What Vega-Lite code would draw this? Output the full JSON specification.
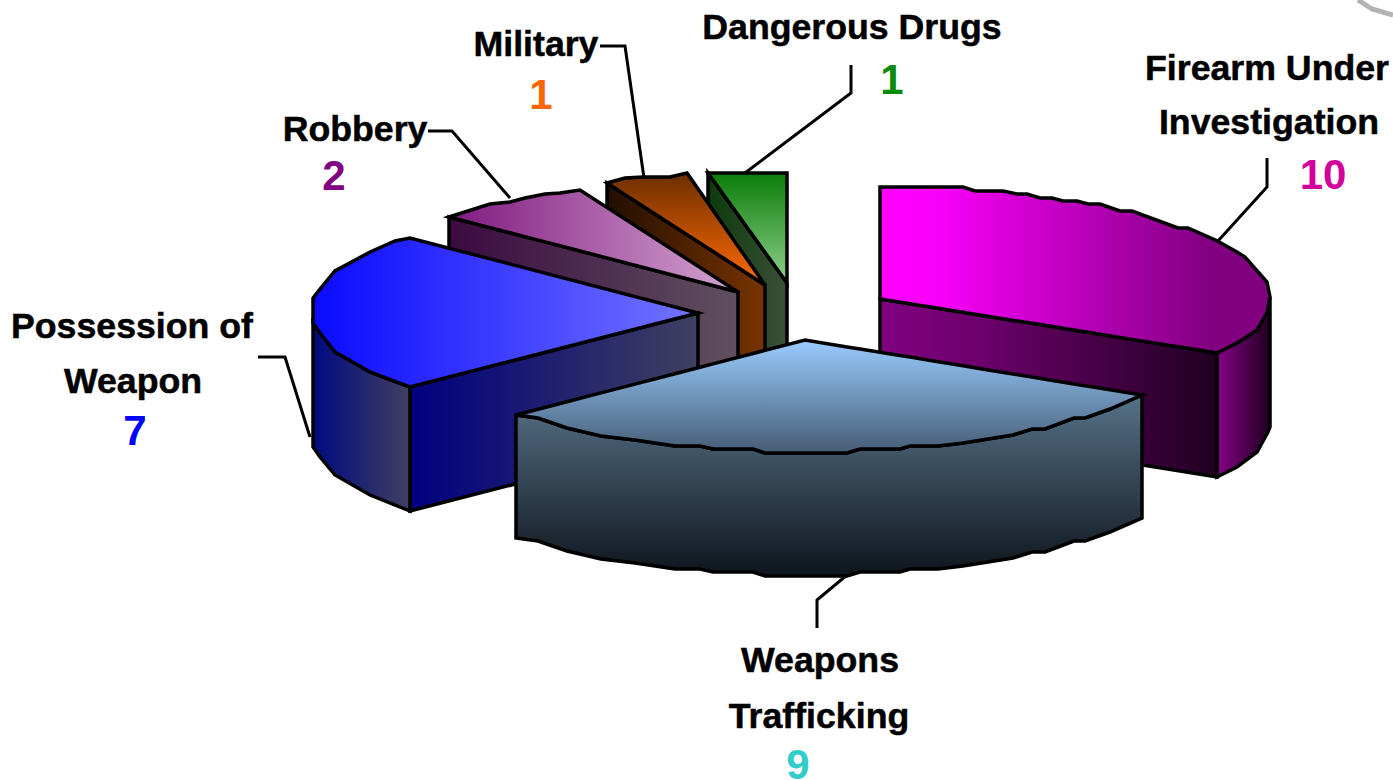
{
"$schema":"https://vega.github.io/schema/vega-lite/v6.json",
"width":1393,"height":780,"padding":0,"autosize":{"type":"none"},"background":"white",
"config":{"view":{"stroke":null},"axis":{"disable":true},"legend":{"disable":true}},
"datasets":{
"slices":[
{"category":"Firearm Under Investigation","count":10,"x":1323,"y":176},
{"category":"Weapons Trafficking","count":9,"x":798,"y":766},
{"category":"Possession of Weapon","count":7,"x":135,"y":432},
{"category":"Robbery","count":2,"x":334,"y":177},
{"category":"Military","count":1,"x":541,"y":96},
{"category":"Dangerous Drugs","count":1,"x":892,"y":81}],
"names":[
{"t":"Dangerous Drugs","x":852,"y":28},{"t":"Military","x":536,"y":45},{"t":"Robbery","x":355,"y":130},
{"t":"Firearm Under","x":1267,"y":69},{"t":"Investigation","x":1269,"y":123},
{"t":"Possession of","x":132,"y":327},{"t":"Weapon","x":133,"y":382},
{"t":"Weapons","x":820,"y":661},{"t":"Trafficking","x":819,"y":717}],
"leaders":[
{"c":"f","s":1,"x":1267,"y":158},{"c":"f","s":2,"x":1267,"y":187},{"c":"f","s":3,"x":1218,"y":241},
{"c":"w","s":1,"x":847,"y":575},{"c":"w","s":2,"x":817,"y":600},{"c":"w","s":3,"x":817,"y":628},
{"c":"p","s":1,"x":258,"y":357},{"c":"p","s":2,"x":285,"y":357},{"c":"p","s":3,"x":310,"y":437},
{"c":"r","s":1,"x":428,"y":131},{"c":"r","s":2,"x":452,"y":131},{"c":"r","s":3,"x":510,"y":198},
{"c":"m","s":1,"x":600,"y":46},{"c":"m","s":2,"x":625,"y":46},{"c":"m","s":3,"x":644,"y":178},
{"c":"d","s":1,"x":851,"y":65},{"c":"d","s":2,"x":851,"y":93},{"c":"d","s":3,"x":745,"y":173}],
"swoosh":[{"x":1358,"y":0},{"x":1372,"y":9},{"x":1393,"y":15}],
"drugsSide":[{"x":708,"y":173,"y2":293},{"x":787,"y":283,"y2":403}],
"drugsTop":[{"x":708,"y":173,"y2":173},{"x":787,"y":173,"y2":283}],
"milSide":[{"x":607,"y":183,"y2":303},{"x":765,"y":285,"y2":405}],
"milTop":[{"x":607,"y":183,"y2":183},{"x":625,"y":178,"y2":194.6},{"x":643,"y":177,"y2":206.2},{"x":670,"y":177,"y2":223.7},{"x":687,"y":173,"y2":234.6},{"x":765,"y":285,"y2":285}],
"robSide":[{"x":449,"y":217,"y2":337},{"x":738,"y":292,"y2":412}],
"robTop":[{"x":449,"y":217,"y2":217},{"x":490,"y":204,"y2":227.6},{"x":510,"y":202,"y2":232.8},{"x":525,"y":198,"y2":236.7},{"x":545,"y":194,"y2":241.9},{"x":560,"y":193,"y2":245.8},{"x":580,"y":190,"y2":251},{"x":738,"y":292,"y2":292}],
"fireInner":[{"x":880,"y":299,"y2":423},{"x":1217,"y":353,"y2":477}],
"fireOuter":[{"x":1217,"y":353,"y2":477},{"x":1237,"y":343,"y2":467},{"x":1257,"y":330,"y2":452},{"x":1268,"y":310,"y2":432},{"x":1270,"y":297,"y2":427}],
"fireTop":[{"x":880,"y":187,"y2":299},{"x":963,"y":187,"y2":312.3},{"x":975,"y":191,"y2":314.2},{"x":1003,"y":191,"y2":318.7},{"x":1017,"y":194,"y2":321},{"x":1027,"y":194,"y2":322.6},{"x":1040,"y":198,"y2":324.6},{"x":1052,"y":198,"y2":326.6},{"x":1063,"y":201,"y2":328.3},{"x":1077,"y":201,"y2":330.6},{"x":1088,"y":204,"y2":332.3},{"x":1100,"y":204,"y2":334.2},{"x":1120,"y":211,"y2":337.5},{"x":1132,"y":211,"y2":339.4},{"x":1178,"y":228,"y2":346.8},{"x":1188,"y":228,"y2":348.3},{"x":1217,"y":240.7,"y2":353},{"x":1237,"y":252,"y2":343},{"x":1245,"y":257,"y2":338},{"x":1257,"y":270.6,"y2":330},{"x":1267,"y":282,"y2":313},{"x":1270,"y":297,"y2":297}],
"blueFront":[{"x":410,"y":387,"y2":511},{"x":698,"y":313,"y2":437}],
"blueOuter":[{"x":313,"y":323,"y2":447},{"x":320,"y":333,"y2":457},{"x":335,"y":352,"y2":475},{"x":370,"y":372,"y2":495},{"x":410,"y":387,"y2":511}],
"blueTop":[{"x":313,"y":298,"y2":323},{"x":320,"y":289,"y2":333},{"x":335,"y":271,"y2":352},{"x":370,"y":252,"y2":372},{"x":395,"y":241,"y2":381.5},{"x":410,"y":238,"y2":387},{"x":698,"y":313,"y2":313}],
"weapSide":[{"x":516,"y":415,"y2":538},{"x":538,"y":418,"y2":541},{"x":567,"y":428,"y2":551},{"x":601,"y":436,"y2":559},{"x":635,"y":440,"y2":563},{"x":675,"y":446,"y2":569},{"x":700,"y":446,"y2":569},{"x":713,"y":449,"y2":572},{"x":753,"y":449,"y2":572},{"x":765,"y":453,"y2":576},{"x":847,"y":453,"y2":576},{"x":860,"y":449,"y2":572},{"x":900,"y":449,"y2":572},{"x":910,"y":446,"y2":569},{"x":938,"y":446,"y2":569},{"x":963,"y":443,"y2":566},{"x":988,"y":439,"y2":562},{"x":1013,"y":435,"y2":558},{"x":1032,"y":429,"y2":552},{"x":1045,"y":429,"y2":552},{"x":1074,"y":418,"y2":541},{"x":1085,"y":418,"y2":541},{"x":1110,"y":409,"y2":532},{"x":1142,"y":395,"y2":518}],
"weapTop":[{"x":516,"y":415,"y2":415},{"x":538,"y":409.3,"y2":418},{"x":567,"y":401.8,"y2":428},{"x":601,"y":392.9,"y2":436},{"x":635,"y":384.1,"y2":440},{"x":675,"y":373.7,"y2":446},{"x":700,"y":367.2,"y2":446},{"x":713,"y":363.9,"y2":449},{"x":753,"y":353.5,"y2":449},{"x":765,"y":350.4,"y2":453},{"x":805,"y":340,"y2":453},{"x":847,"y":346.9,"y2":453},{"x":860,"y":349,"y2":449},{"x":900,"y":355.5,"y2":449},{"x":910,"y":357.1,"y2":446},{"x":938,"y":361.7,"y2":446},{"x":963,"y":365.8,"y2":443},{"x":988,"y":369.9,"y2":439},{"x":1013,"y":374,"y2":435},{"x":1032,"y":377.1,"y2":429},{"x":1045,"y":379.2,"y2":429},{"x":1074,"y":384,"y2":418},{"x":1085,"y":385.8,"y2":418},{"x":1110,"y":389.8,"y2":409},{"x":1142,"y":395,"y2":395}]
},
"encoding":{
"x":{"field":"x","type":"quantitative","scale":{"domain":[0,1393],"nice":false,"zero":false},"axis":null},
"y":{"field":"y","type":"quantitative","scale":{"domain":[780,0],"nice":false,"zero":false},"axis":null}
},
"layer":[
{"data":{"name":"swoosh"},"mark":{"type":"line","stroke":"#b4b4b4","strokeWidth":5}},
{"data":{"name":"leaders"},"mark":{"type":"line","stroke":"black","strokeWidth":3,"strokeJoin":"miter"},"encoding":{"detail":{"field":"c"},"order":{"field":"s","type":"ordinal"}}},
{"data":{"name":"drugsSide"},"mark":{"type":"area","orient":"vertical","stroke":"black","strokeWidth":3.5,"fill":{"gradient":"linear","x1":0,"y1":0,"x2":1,"y2":0,"stops":[{"offset":0,"color":"#0c3a0c"},{"offset":1,"color":"#3c5038"}]}},"encoding":{"y2":{"field":"y2"}}},
{"data":{"name":"drugsTop"},"mark":{"type":"area","orient":"vertical","stroke":"black","strokeWidth":3.5,"fill":{"gradient":"linear","x1":0,"y1":0,"x2":0,"y2":1,"stops":[{"offset":0,"color":"#0b7d0b"},{"offset":1,"color":"#8fd08a"}]}},"encoding":{"y2":{"field":"y2"}}},
{"data":{"name":"milSide"},"mark":{"type":"area","orient":"vertical","stroke":"black","strokeWidth":3.5,"fill":{"gradient":"linear","x1":0,"y1":0,"x2":1,"y2":0,"stops":[{"offset":0,"color":"#220e00"},{"offset":1,"color":"#783400"}]}},"encoding":{"y2":{"field":"y2"}}},
{"data":{"name":"milTop"},"mark":{"type":"area","orient":"vertical","stroke":"black","strokeWidth":3.5,"fill":{"gradient":"linear","x1":0,"y1":0,"x2":0,"y2":1,"stops":[{"offset":0,"color":"#6c2e00"},{"offset":1,"color":"#ff6a00"}]}},"encoding":{"y2":{"field":"y2"}}},
{"data":{"name":"robSide"},"mark":{"type":"area","orient":"vertical","stroke":"black","strokeWidth":3.5,"fill":{"gradient":"linear","x1":0,"y1":0,"x2":1,"y2":0,"stops":[{"offset":0,"color":"#3a0a40"},{"offset":1,"color":"#605060"}]}},"encoding":{"y2":{"field":"y2"}}},
{"data":{"name":"robTop"},"mark":{"type":"area","orient":"vertical","stroke":"black","strokeWidth":3.5,"fill":{"gradient":"linear","x1":0,"y1":0,"x2":1,"y2":0,"stops":[{"offset":0,"color":"#801a80"},{"offset":1,"color":"#d4a4d0"}]}},"encoding":{"y2":{"field":"y2"}}},
{"data":{"name":"fireInner"},"mark":{"type":"area","orient":"vertical","stroke":"black","strokeWidth":3.5,"fill":{"gradient":"linear","x1":0,"y1":0,"x2":1,"y2":0,"stops":[{"offset":0,"color":"#800080"},{"offset":0.3,"color":"#6c006c"},{"offset":1,"color":"#200020"}]}},"encoding":{"y2":{"field":"y2"}}},
{"data":{"name":"fireOuter"},"mark":{"type":"area","orient":"vertical","stroke":"black","strokeWidth":3.5,"fill":{"gradient":"linear","x1":0,"y1":0,"x2":1,"y2":0,"stops":[{"offset":0,"color":"#860086"},{"offset":1,"color":"#200020"}]}},"encoding":{"y2":{"field":"y2"}}},
{"data":{"name":"fireTop"},"mark":{"type":"area","orient":"vertical","stroke":"black","strokeWidth":3.5,"fill":{"gradient":"linear","x1":0,"y1":0,"x2":1,"y2":0,"stops":[{"offset":0,"color":"#ff00ff"},{"offset":0.15,"color":"#f800f8"},{"offset":0.85,"color":"#800080"},{"offset":1,"color":"#800080"}]}},"encoding":{"y2":{"field":"y2"}}},
{"data":{"name":"blueFront"},"mark":{"type":"area","orient":"vertical","stroke":"black","strokeWidth":3.5,"fill":{"gradient":"linear","x1":0,"y1":0,"x2":1,"y2":0,"stops":[{"offset":0,"color":"#000080"},{"offset":1,"color":"#404060"}]}},"encoding":{"y2":{"field":"y2"}}},
{"data":{"name":"blueOuter"},"mark":{"type":"area","orient":"vertical","stroke":"black","strokeWidth":3.5,"fill":{"gradient":"linear","x1":0,"y1":0,"x2":1,"y2":0,"stops":[{"offset":0,"color":"#000a80"},{"offset":1,"color":"#404060"}]}},"encoding":{"y2":{"field":"y2"}}},
{"data":{"name":"blueTop"},"mark":{"type":"area","orient":"vertical","stroke":"black","strokeWidth":3.5,"fill":{"gradient":"linear","x1":0,"y1":0,"x2":1,"y2":0,"stops":[{"offset":0,"color":"#0a0aff"},{"offset":1,"color":"#7474ff"}]}},"encoding":{"y2":{"field":"y2"}}},
{"data":{"name":"weapSide"},"mark":{"type":"area","orient":"vertical","stroke":"black","strokeWidth":3.5,"fill":{"gradient":"linear","x1":0,"y1":0,"x2":0,"y2":1,"stops":[{"offset":0,"color":"#567288"},{"offset":1,"color":"#0e141c"}]}},"encoding":{"y2":{"field":"y2"}}},
{"data":{"name":"weapTop"},"mark":{"type":"area","orient":"vertical","stroke":"black","strokeWidth":3.5,"fill":{"gradient":"linear","x1":0,"y1":0,"x2":0,"y2":1,"stops":[{"offset":0,"color":"#99ccff"},{"offset":1,"color":"#465c74"}]}},"encoding":{"y2":{"field":"y2"}}},
{"data":{"name":"names"},"mark":{"type":"text","font":"Liberation Sans","fontWeight":"bold","fontSize":35.7,"align":"center","baseline":"middle","fill":"black","stroke":"black","strokeWidth":0.5},"encoding":{"text":{"field":"t"}}},
{"data":{"name":"slices"},"mark":{"type":"text","font":"Liberation Sans","fontWeight":"bold","fontSize":42,"align":"center","baseline":"middle"},"encoding":{"text":{"field":"count","type":"quantitative"},"color":{"field":"category","type":"nominal","legend":null,"scale":{"domain":["Firearm Under Investigation","Weapons Trafficking","Possession of Weapon","Robbery","Military","Dangerous Drugs"],"range":["#d4009c","#33cccc","#0000ff","#800080","#ff6600","#0a8c0a"]}}}}
]
}
